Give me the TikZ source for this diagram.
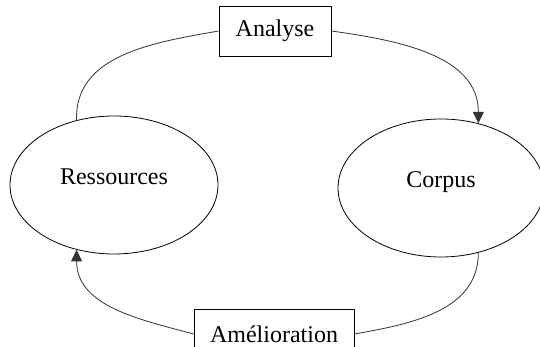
\documentclass[tikz,border=0pt]{standalone}
\usepackage{fontspec}
\setmainfont{Liberation Serif}
\usetikzlibrary{shapes.geometric}
\usetikzlibrary{arrows.meta}

\tikzset{
  etat/.style={ellipse, draw, line width=0.8pt, inner sep=0pt,
    text height=16pt, text depth=17pt,
    font=\fontsize{24}{28}\selectfont},
  etape/.style={rectangle, draw, line width=0.8pt, inner sep=0pt,
    minimum height=50pt, font=\fontsize{24}{28}\selectfont},
  lien/.style={line width=0.8pt, draw=black!80},
  fleche/.style={lien, -{Triangle[length=11.5pt,width=11pt]}}
}

\begin{document}
\begin{tikzpicture}[x=1pt,y=1pt]
\useasboundingbox (0,0) rectangle (540,347);
% Define nodes
\node[etat, minimum width=208pt, minimum height=138pt] (ress) at (114,162) {Ressources};
\node[etat, minimum width=206pt, minimum height=138pt] (corpus) at (441,159) {Corpus};
\node[etape, minimum width=112pt] (analyse) at (275,316) {Analyse};
\node[etape, minimum width=160pt] (amelio) at (274,13) {Amélioration};

% Edges
\draw[lien] (ress.120) to[out=92, in=190] (analyse.west);
\draw[fleche] (analyse.east) to[out=-8, in=90] (corpus.60);
\draw[lien] (corpus.-60) to[out=-90, in=10] (amelio.east);
\draw[fleche] (amelio.west) to[out=165, in=-90] (ress.-120);
\end{tikzpicture}
\end{document}
